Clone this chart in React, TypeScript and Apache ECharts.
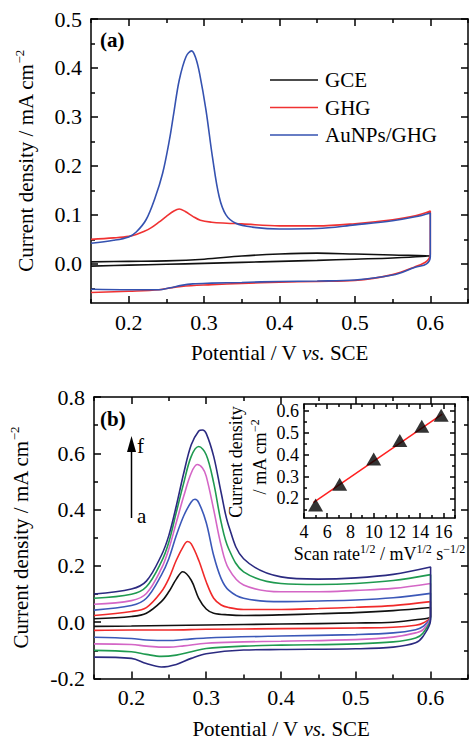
import React, { useEffect, useRef } from "react";
import * as echarts from "echarts";

const FONT = '"Liberation Serif", "Times New Roman", Times, serif';

// ---------- Panel (a) data: [potential V, current density mA cm-2] ----------
const gceLoop: number[][] = [
  [0.15, 0.004], [0.2, 0.005], [0.25, 0.006], [0.3, 0.0095], [0.35, 0.016], [0.4, 0.02],
  [0.45, 0.0218], [0.5, 0.02], [0.55, 0.018], [0.6, 0.016], [0.6, 0.015], [0.55, 0.012],
  [0.5, 0.0095], [0.45, 0.007], [0.4, 0.005], [0.35, 0.003], [0.3, 0.001], [0.25, -0.001],
  [0.2, -0.0027], [0.15, -0.0047],
];
const ghgLoop: number[][] = [
  [0.15, 0.05], [0.18, 0.053], [0.2, 0.056], [0.21, 0.06], [0.22, 0.066], [0.23, 0.074],
  [0.24, 0.085], [0.25, 0.097], [0.26, 0.108], [0.267, 0.112], [0.275, 0.107], [0.285, 0.097],
  [0.295, 0.089], [0.31, 0.085], [0.33, 0.083], [0.35, 0.0816], [0.4, 0.0776], [0.45, 0.0776],
  [0.5, 0.082], [0.55, 0.09], [0.58, 0.098], [0.6, 0.108], [0.6, 0.02], [0.595, 0.005],
  [0.58, -0.006], [0.55, -0.022], [0.5, -0.034], [0.45, -0.036], [0.4, -0.0374], [0.35, -0.04],
  [0.31, -0.0425], [0.27, -0.046], [0.24, -0.053], [0.2, -0.056], [0.15, -0.0585],
];
const auLoop: number[][] = [
  [0.15, 0.042], [0.18, 0.048], [0.2, 0.055], [0.21, 0.065], [0.223, 0.09], [0.235, 0.135],
  [0.245, 0.185], [0.254, 0.253], [0.26, 0.31], [0.267, 0.375], [0.276, 0.423], [0.2835, 0.435],
  [0.289, 0.42], [0.294, 0.389], [0.3025, 0.314], [0.311, 0.219], [0.32, 0.137], [0.329, 0.1],
  [0.342, 0.083], [0.364, 0.075], [0.4, 0.071], [0.45, 0.072], [0.5, 0.0796], [0.55, 0.088],
  [0.58, 0.096], [0.6, 0.104], [0.6, 0.015], [0.595, 0.0], [0.58, -0.007], [0.55, -0.023],
  [0.5, -0.033], [0.45, -0.035], [0.4, -0.036], [0.35, -0.038], [0.31, -0.0395], [0.285, -0.041],
  [0.27, -0.044], [0.255, -0.049], [0.24, -0.053], [0.2, -0.053], [0.15, -0.052],
];
const panelANames = ["GCE", "GHG", "AuNPs/GHG"];
const panelAColors = ["#111111", "#f03232", "#3552b0"];

// ---------- Panel (b) data: curves a..f ----------
const cvA: number[][] = [
  [0.15, 0.012], [0.2, 0.0204], [0.22, 0.032], [0.24, 0.073], [0.25, 0.108], [0.26, 0.153],
  [0.2686, 0.179], [0.28, 0.149], [0.29, 0.085], [0.3, 0.047], [0.31, 0.032], [0.33, 0.026],
  [0.35, 0.024], [0.4, 0.026], [0.45, 0.03], [0.5, 0.034], [0.55, 0.041], [0.6, 0.052],
  [0.6, 0.02], [0.58, 0.0087], [0.55, 0.0], [0.5, -0.003], [0.4, -0.0066], [0.3, -0.01],
  [0.2, -0.0136], [0.15, -0.015],
];
const cvB: number[][] = [
  [0.15, 0.024], [0.2, 0.038], [0.22, 0.052], [0.24, 0.108], [0.25, 0.155], [0.26, 0.22],
  [0.27, 0.272], [0.275, 0.2865], [0.28, 0.278], [0.29, 0.22], [0.3, 0.1435], [0.31, 0.085],
  [0.32, 0.061], [0.33, 0.052], [0.35, 0.045], [0.4, 0.045], [0.45, 0.0485], [0.5, 0.053],
  [0.55, 0.059], [0.6, 0.073], [0.6, 0.02], [0.59, -0.003], [0.58, -0.011], [0.55, -0.018],
  [0.5, -0.0206], [0.4, -0.023], [0.3, -0.0253], [0.25, -0.0277], [0.2, -0.0277], [0.15, -0.029],
];
const cvC: number[][] = [
  [0.15, 0.043], [0.2, 0.059], [0.22, 0.085], [0.24, 0.167], [0.25, 0.2255], [0.26, 0.3076],
  [0.27, 0.378], [0.28, 0.427], [0.285, 0.4366], [0.29, 0.425], [0.3, 0.3545], [0.31, 0.237],
  [0.32, 0.155], [0.33, 0.114], [0.35, 0.085], [0.4, 0.073], [0.45, 0.0755], [0.5, 0.079],
  [0.55, 0.087], [0.6, 0.1025], [0.6, 0.02], [0.59, -0.015], [0.58, -0.0265], [0.55, -0.038],
  [0.5, -0.044], [0.4, -0.049], [0.3, -0.056], [0.27, -0.0617], [0.25, -0.065], [0.22, -0.063],
  [0.2, -0.058], [0.15, -0.0535],
];
const cvD: number[][] = [
  [0.15, 0.064], [0.2, 0.0767], [0.22, 0.102], [0.24, 0.19], [0.25, 0.26], [0.26, 0.354],
  [0.27, 0.448], [0.28, 0.53], [0.288, 0.56], [0.295, 0.548], [0.3, 0.519], [0.31, 0.4],
  [0.32, 0.272], [0.33, 0.19], [0.35, 0.132], [0.4, 0.108], [0.45, 0.108], [0.5, 0.113],
  [0.55, 0.12], [0.6, 0.1376], [0.6, 0.02], [0.59, -0.0265], [0.58, -0.038], [0.55, -0.053],
  [0.5, -0.062], [0.4, -0.0675], [0.35, -0.07], [0.3, -0.0746], [0.27, -0.084], [0.25, -0.0886],
  [0.24, -0.0886], [0.22, -0.085], [0.2, -0.079], [0.15, -0.077],
];
const cvE: number[][] = [
  [0.15, 0.085], [0.2, 0.099], [0.22, 0.126], [0.24, 0.214], [0.25, 0.284], [0.26, 0.39],
  [0.27, 0.495], [0.28, 0.589], [0.29, 0.624], [0.3, 0.595], [0.31, 0.495], [0.32, 0.3545],
  [0.33, 0.261], [0.35, 0.179], [0.4, 0.1376], [0.45, 0.134], [0.5, 0.1376], [0.55, 0.148],
  [0.6, 0.169], [0.6, 0.0145], [0.59, -0.038], [0.58, -0.056], [0.55, -0.07], [0.5, -0.077],
  [0.4, -0.0816], [0.35, -0.085], [0.3, -0.0933], [0.28, -0.105], [0.26, -0.117], [0.24, -0.1215],
  [0.22, -0.1144], [0.2, -0.105], [0.15, -0.1],
];
const cvF: number[][] = [
  [0.15, 0.1], [0.2, 0.118], [0.22, 0.146], [0.24, 0.237], [0.25, 0.3076], [0.26, 0.413],
  [0.27, 0.53], [0.28, 0.63], [0.29, 0.679], [0.295, 0.683], [0.3, 0.671], [0.31, 0.589],
  [0.32, 0.46], [0.33, 0.343], [0.35, 0.2255], [0.4, 0.161], [0.45, 0.153], [0.5, 0.1576],
  [0.55, 0.17], [0.6, 0.196], [0.6, 0.0087], [0.59, -0.05], [0.58, -0.073], [0.55, -0.0886],
  [0.5, -0.0945], [0.4, -0.097], [0.35, -0.099], [0.3, -0.112], [0.28, -0.1285], [0.26, -0.15],
  [0.24, -0.159], [0.22, -0.147], [0.2, -0.1285], [0.15, -0.124],
];

// ---------- Inset data ----------
const sqrtScanRate = [5, 7.07, 10, 12.25, 14.14, 15.81];
const peakCurrent = [0.17, 0.265, 0.38, 0.465, 0.53, 0.58];
const fitX = [4.8, 15.9];
const fitY = [0.18, 0.586];

// ---------- Tick values ----------
const xMajor = [0.2, 0.3, 0.4, 0.5, 0.6];
const xMinor = [0.15, 0.25, 0.35, 0.45, 0.55, 0.65];
const yAMajor = [0, 0.1, 0.2, 0.3, 0.4, 0.5];
const yAMinor = [-0.05, 0.05, 0.15, 0.25, 0.35, 0.45];
const yBMajor = [-0.2, 0, 0.2, 0.4, 0.6, 0.8];
const yBMinor = [-0.1, 0.1, 0.3, 0.5, 0.7];
const inXMajor = [4, 6, 8, 10, 12, 14, 16];
const inXMinor = [5, 7, 9, 11, 13, 15, 17];
const inYMajor = [0.2, 0.3, 0.4, 0.5, 0.6];
const inYMinor = [0.15, 0.25, 0.35, 0.45, 0.55];

const BLACK = "#000";
const lineS = { color: BLACK, width: 1.5 };
const rich = {
  sup: { fontSize: 13, fontFamily: FONT, color: BLACK, verticalAlign: "top", lineHeight: 26 },
  i: { fontSize: 21, fontFamily: FONT, color: BLACK, fontStyle: "italic", lineHeight: 26 },
  n: { fontSize: 21, fontFamily: FONT, color: BLACK, lineHeight: 26 },
};
const richS = {
  sup: { fontSize: 12, fontFamily: FONT, color: BLACK, verticalAlign: "top", lineHeight: 22 },
  n: { fontSize: 18, fontFamily: FONT, color: BLACK, lineHeight: 22 },
};
const richG = {
  sup: { fontSize: 12, fontFamily: FONT, fill: BLACK, verticalAlign: "top", lineHeight: 22 },
  n: { fontSize: 18, fontFamily: FONT, fill: BLACK, lineHeight: 22 },
};

function makeAxes(dim: "x" | "y", g: number, min: number, max: number, majors: number[], minors: number[], o: any) {
  const [p1, p2] = dim === "x" ? ["bottom", "top"] : ["left", "right"];
  const base: any = { type: "value", gridIndex: g, min, max, splitLine: { show: false } };
  const tick = (vals: number[], len: number) => ({
    show: true, inside: true, length: len, customValues: vals, lineStyle: lineS,
  });
  return [
    {
      ...base, position: p1,
      axisLine: { show: true, onZero: false, lineStyle: lineS },
      axisTick: tick(majors, o.major),
      axisLabel: {
        show: true, customValues: majors, formatter: o.fmt, fontSize: o.fs, fontFamily: FONT,
        color: BLACK, margin: o.margin,
      },
      name: o.name, nameLocation: "middle", nameGap: o.nameGap, nameRotate: dim === "y" ? 90 : 0,
      nameTextStyle: { fontSize: o.fs, fontFamily: FONT, color: BLACK, rich: o.rich },
    },
    { ...base, position: p1, axisLine: { show: false, onZero: false }, axisTick: tick(minors, o.minor), axisLabel: { show: false } },
    { ...base, position: p2, axisLine: { show: true, onZero: false, lineStyle: lineS }, axisTick: tick(majors, o.major), axisLabel: { show: false } },
    { ...base, position: p2, axisLine: { show: false, onZero: false }, axisTick: tick(minors, o.minor), axisLabel: { show: false } },
  ];
}

const f1 = (v: number) => v.toFixed(1);
const f0 = (v: number) => String(Math.round(v));

function cvSeries(name: string, data: number[][], color: string, axisIdx: number) {
  return {
    name, type: "line", xAxisIndex: axisIdx, yAxisIndex: axisIdx, data, smooth: 0.35,
    symbol: "none", showSymbol: false, lineStyle: { color, width: 1.6 }, itemStyle: { color },
    clip: true,
  };
}

export default function App() {
  const ref = useRef<HTMLDivElement>(null);
  useEffect(() => {
    if (!ref.current) return;
    const chart = echarts.init(ref.current, undefined, { renderer: "svg" });
    const xName = "{n|Potential / V }{i|vs.}{n| SCE}";
    const legendEls: any[] = [];
    panelANames.forEach((nm, i) => {
      const y = 80 + i * 27.5;
      legendEls.push({ type: "line", shape: { x1: 270, y1: y, x2: 318, y2: y }, style: { stroke: panelAColors[i], lineWidth: 1.6 } });
      legendEls.push({ type: "text", x: 325, y, style: { text: nm, fontSize: 21, fontFamily: FONT, fill: BLACK, verticalAlign: "middle" } });
    });
    const option: any = {
      animation: false,
      backgroundColor: "#fff",
      grid: [
        { left: 91, top: 19, width: 377, height: 284 },
        { left: 91, top: 397, width: 377, height: 284 },
        { left: 304, top: 404, width: 151, height: 114 },
      ],
      xAxis: [
        ...makeAxes("x", 0, 0.15, 0.65, xMajor, xMinor, { major: 7, minor: 4, fmt: f1, fs: 22, margin: 8, name: xName, nameGap: 37, rich }),
        ...makeAxes("x", 1, 0.15, 0.65, xMajor, xMinor, { major: 7, minor: 4, fmt: f1, fs: 22, margin: 8, name: xName, nameGap: 37, rich }),
        ...makeAxes("x", 2, 4, 17, inXMajor, inXMinor, { major: 5, minor: 3, fmt: f0, fs: 18, margin: 5, name: "{n|Scan rate}{sup|1/2}{n| / mV}{sup|1/2}{n| s}{sup|−1/2}", nameGap: 25, rich: richS }),
      ],
      yAxis: [
        ...makeAxes("y", 0, -0.08, 0.5, yAMajor, yAMinor, { major: 7, minor: 4, fmt: f1, fs: 22, margin: 9, name: "{n|Current density / mA cm}{sup|−2}", nameGap: 52, rich }),
        ...makeAxes("y", 1, -0.2, 0.8, yBMajor, yBMinor, { major: 7, minor: 4, fmt: f1, fs: 22, margin: 9, name: "{n|Current density / mA cm}{sup|−2}", nameGap: 60, rich }),
        ...makeAxes("y", 2, 0.11, 0.632, inYMajor, inYMinor, { major: 5, minor: 3, fmt: f1, fs: 18, margin: 5, name: "", nameGap: 30, rich: richS }),
      ],
      series: [
        cvSeries(panelANames[0], gceLoop, panelAColors[0], 0),
        cvSeries(panelANames[1], ghgLoop, panelAColors[1], 0),
        cvSeries(panelANames[2], auLoop, panelAColors[2], 0),
        cvSeries("a", cvA, "#111111", 4),
        cvSeries("b", cvB, "#f02a2a", 4),
        cvSeries("c", cvC, "#3b58b8", 4),
        cvSeries("d", cvD, "#d466c6", 4),
        cvSeries("e", cvE, "#1f9a50", 4),
        cvSeries("f", cvF, "#2b2a80", 4),
        {
          name: "fit", type: "line", xAxisIndex: 8, yAxisIndex: 8, symbol: "none",
          data: fitX.map((x, i) => [x, fitY[i]]), lineStyle: { color: "#ff2020", width: 1.5 }, z: 2,
        },
        {
          name: "peak", type: "scatter", xAxisIndex: 8, yAxisIndex: 8, symbol: "triangle", symbolSize: [15, 13],
          data: sqrtScanRate.map((x, i) => [x, peakCurrent[i]]), itemStyle: { color: BLACK }, z: 3,
        },
      ],
      graphic: [
        ...legendEls,
        { type: "text", left: 100, top: 29, style: { text: "(a)", fontSize: 21, fontWeight: "bold", fontFamily: FONT, fill: BLACK } },
        { type: "text", left: 100, top: 408, style: { text: "(b)", fontSize: 21, fontWeight: "bold", fontFamily: FONT, fill: BLACK } },
        { type: "line", shape: { x1: 131.5, y1: 518, x2: 131.5, y2: 450 }, style: { stroke: BLACK, lineWidth: 1.5 } },
        { type: "polygon", shape: { points: [[131.5, 436], [127, 452], [136, 452]] }, style: { fill: BLACK } },
        { type: "text", x: 137, y: 446, style: { text: "f", fontSize: 21, fontFamily: FONT, fill: BLACK, verticalAlign: "middle" } },
        { type: "text", x: 137, y: 516, style: { text: "a", fontSize: 21, fontFamily: FONT, fill: BLACK, verticalAlign: "middle" } },
        {
          type: "text", x: 236, y: 462, rotation: Math.PI / 2,
          style: { text: "{n|Current density}", rich: richG, fontSize: 18, fontFamily: FONT, fill: BLACK, align: "center", verticalAlign: "middle" },
        },
        {
          type: "text", x: 260, y: 457, rotation: Math.PI / 2,
          style: { text: "{n|/ mA cm}{sup|−2}", rich: richG, fontSize: 18, fontFamily: FONT, fill: BLACK, align: "center", verticalAlign: "middle" },
        },
      ],
    };
    chart.setOption(option);
    return () => chart.dispose();
  }, []);
  return <div ref={ref} style={{ position: "fixed", left: 0, top: 0, width: 469, height: 740 }} />;
}
